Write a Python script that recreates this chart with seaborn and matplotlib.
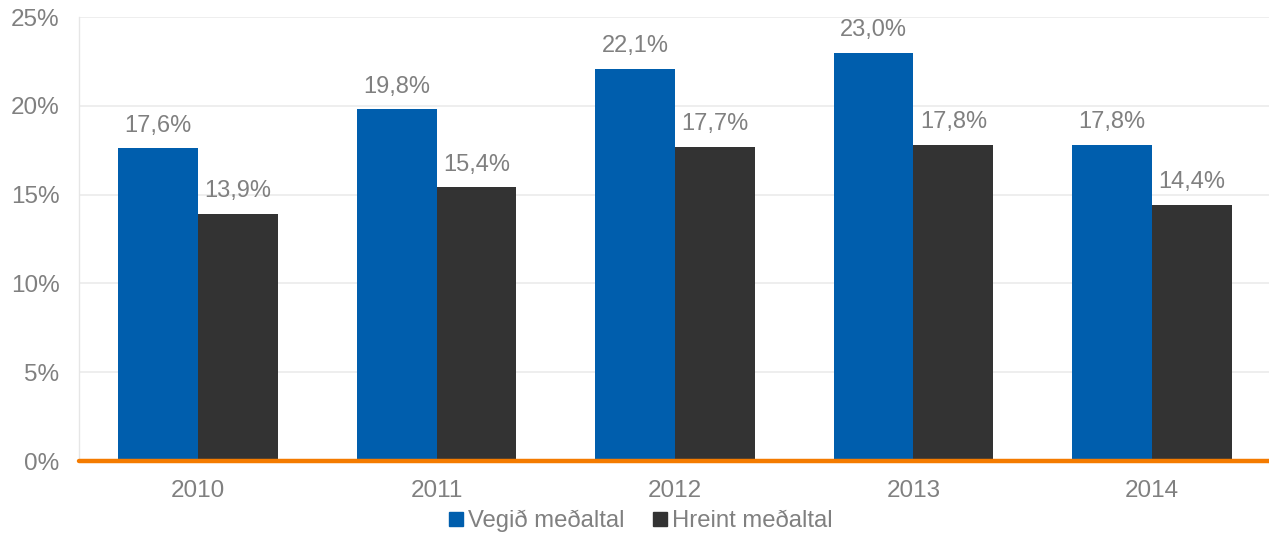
import matplotlib
matplotlib.use("Agg")
import matplotlib.pyplot as plt
import seaborn as sns
import pandas as pd
from matplotlib.lines import Line2D

years = ["2010", "2011", "2012", "2013", "2014"]
series_names = ["Vegið meðaltal", "Hreint meðaltal"]
weighted = [17.6, 19.8, 22.1, 23.0, 17.8]
simple = [13.9, 15.4, 17.7, 17.8, 14.4]
yticks = [0, 5, 10, 15, 20, 25]

colors = ["#005EAD", "#333333"]
text_gray = "#808080"

df = pd.DataFrame({
    "year": years * 2,
    "series": [series_names[0]] * len(years) + [series_names[1]] * len(years),
    "value": weighted + simple,
})

sns.set_theme(style="white")
plt.rcParams["font.family"] = ["Liberation Sans", "DejaVu Sans"]

fig = plt.figure(figsize=(12.69, 5.36), dpi=100)
ax = fig.add_axes([79 / 1269, (536 - 461) / 536, (1271 - 79) / 1269, 444 / 536])

sns.barplot(data=df, x="year", y="value", hue="series", palette=colors,
            width=0.67, gap=0, ax=ax, legend=False, saturation=1,
            edgecolor="none", linewidth=0)

ax.set_ylim(0, 25)
ax.set_xlim(-0.5, 4.5)
ax.set_yticks(yticks)
ax.set_yticklabels([f"{t}%" for t in yticks])
ax.yaxis.grid(True, color="#ebebeb", linewidth=1.2)
ax.set_axisbelow(True)
ax.set_xlabel("")
ax.set_ylabel("")
ax.tick_params(axis="both", length=0, labelsize=17.5, colors=text_gray)
ax.tick_params(axis="y", pad=14)
ax.tick_params(axis="x", pad=14)
for s in ["top", "right", "bottom"]:
    ax.spines[s].set_visible(False)
ax.spines["left"].set_color("#e6e6e6")
ax.spines["left"].set_linewidth(1)

ax.axhline(0, color="#F47B00", linewidth=3.2, zorder=5, clip_on=False)

for container in ax.containers:
    labels = [f"{b.get_height():.1f}%".replace(".", ",") for b in container]
    ax.bar_label(container, labels=labels, padding=8.5, fontsize=17, color=text_gray)

handles = [Line2D([], [], marker="s", linestyle="none", markersize=9.5,
                  markerfacecolor=c, markeredgecolor=c) for c in colors]
fig.legend(handles, series_names, loc="center", bbox_to_anchor=(641 / 1269, 1 - 521 / 536),
           ncol=2, frameon=False, fontsize=17.2, labelcolor=text_gray,
           handletextpad=0.2, columnspacing=1.2, handlelength=0.6)

fig.savefig("out.png", dpi=100)
